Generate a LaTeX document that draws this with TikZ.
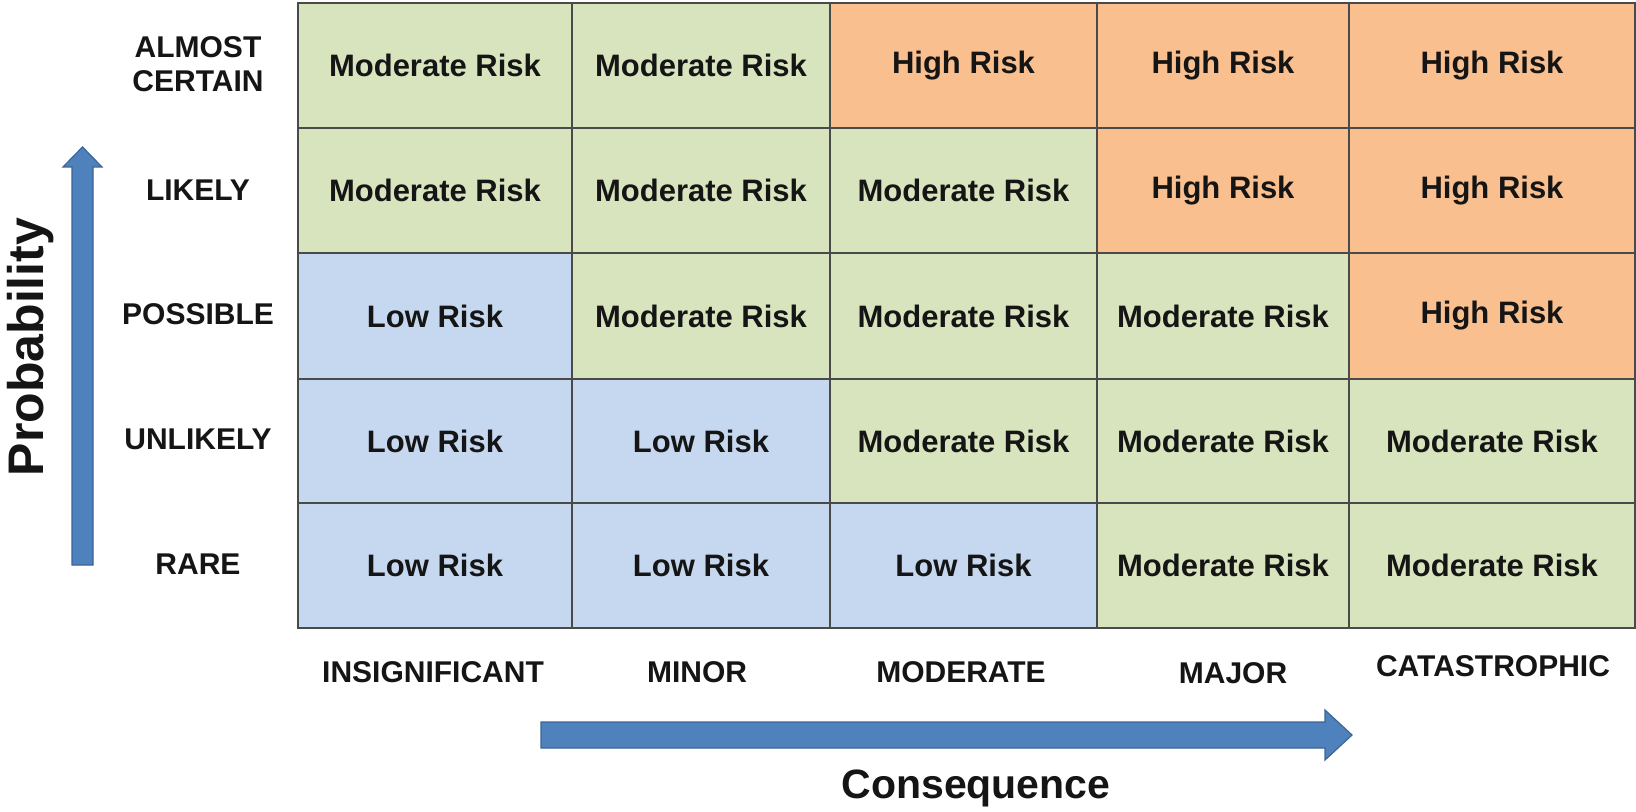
\documentclass[tikz,border=0pt]{standalone}
\usepackage{fontspec}
\setmainfont{Liberation Sans}
\definecolor{grn}{HTML}{D7E4BD}
\definecolor{blu}{HTML}{C6D8F0}
\definecolor{org}{HTML}{F9BF8F}
\definecolor{gridc}{HTML}{4A4A4A}
\definecolor{txt}{HTML}{151515}
\definecolor{arrfill}{HTML}{4F81BD}
\definecolor{arrline}{HTML}{3A6697}
\begin{document}
\begin{tikzpicture}[x=0.5pt,y=-0.5pt,
  cell/.style={draw=gridc, line width=1pt, inner sep=0pt, anchor=north west,
    font=\fontsize{15.5}{18}\selectfont\bfseries, text=txt},
  gM/.style={fill=grn, node contents={Moderate Risk}},
  oH/.style={fill=org, node contents={High Risk}},
  bL/.style={fill=blu, node contents={Low Risk}},
  lab/.style={font=\fontsize{15}{17}\selectfont\bfseries, text=txt, inner sep=0pt},
  blockarrow/.style={fill=arrfill, draw=arrline, line width=0.6pt, line join=miter}
]
\fill[white] (0,0) rectangle (1636,812);
\useasboundingbox (0,0) rectangle (1636,812);
% grid cells
\foreach \code [count=\i from 0] in {gM,gM,oH,oH,oH, gM,gM,gM,oH,oH, bL,gM,gM,gM,oH, bL,bL,gM,gM,gM, bL,bL,bL,gM,gM}{
  \pgfmathtruncatemacro\r{int(\i/5)+1}
  \pgfmathtruncatemacro\c{mod(\i,5)+1}
  \pgfmathsetmacro\xa{{297,571,829,1096,1348,1634}[\c-1]}
  \pgfmathsetmacro\xb{{297,571,829,1096,1348,1634}[\c]}
  \pgfmathsetmacro\ya{{2,127,252,378,502,627}[\r-1]}
  \pgfmathsetmacro\yb{{2,127,252,378,502,627}[\r]}
  \pgfmathsetmacro\w{(\xb-\xa)*0.5}
  \pgfmathsetmacro\h{(\yb-\ya)*0.5}
  \node (c\r-\c) at (\xa,\ya) [cell,\code,minimum width=\w pt,minimum height=\h pt];
}
% row labels
\node[lab, align=center] (pAC) at (198,64) {ALMOST\\CERTAIN};
\node[lab] (pLI) at (198,190) {LIKELY};
\node[lab] (pPO) at (198,314) {POSSIBLE};
\node[lab] (pUN) at (198,439) {UNLIKELY};
\node[lab] (pRA) at (198,564) {RARE};
% column labels
\node[lab] (kIN) at (433,672) {INSIGNIFICANT};
\node[lab] (kMI) at (697,672) {MINOR};
\node[lab] (kMO) at (961,672) {MODERATE};
\node[lab] (kMA) at (1233,673) {MAJOR};
\node[lab] (kCA) at (1493,666) {CATASTROPHIC};
% arrows
\draw[blockarrow] (72,565) -- (72,167) -- (63,167) -- (82.5,147) -- (102,167) -- (93,167) -- (93,565) -- cycle;
\draw[blockarrow] (541,722) -- (1325,722) -- (1325,710) -- (1352,735) -- (1325,760) -- (1325,748) -- (541,748) -- cycle;
% axis titles
\node[font=\fontsize{25}{28}\selectfont\bfseries, text=txt, rotate=90, inner sep=0pt] (prob) at (31,347) {Probability};
\node[font=\fontsize{20.5}{24}\selectfont\bfseries, text=txt, inner sep=0pt] (cons) at (976,788) {Consequence};
\end{tikzpicture}
\end{document}
